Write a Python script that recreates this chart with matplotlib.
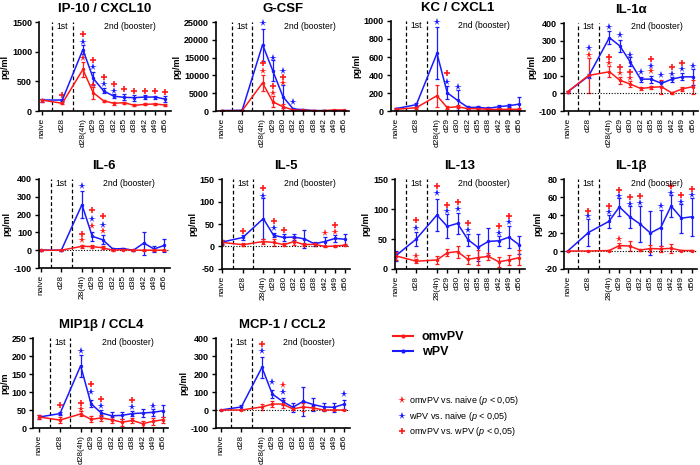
import numpy as np
import matplotlib.pyplot as plt
from matplotlib.lines import Line2D

plt.rcParams['font.family'] = ['Liberation Sans', 'DejaVu Sans']
plt.rcParams['mathtext.fontset'] = 'custom'
plt.rcParams['mathtext.rm'] = 'Liberation Sans'
plt.rcParams['mathtext.it'] = 'Liberation Sans:italic'

days = ['naive', 'd28', 'd28(4h)', 'd29', 'd30', 'd32', 'd35', 'd38', 'd42', 'd49', 'd56']
pos = [0, 2, 4, 5, 6, 7, 8, 9, 10, 11, 12]

# IP-10 / CXCL10
ip10_omv = [185, 130, 700, 308, 173, 130, 140, 95, 112, 118, 100]
ip10_omv_err = [25, 15, 130, 100, 20, 30, 20, 15, 15, 15, 10]
ip10_wpv = [185, 185, 1035, 550, 340, 250, 230, 225, 235, 235, 200]
ip10_wpv_err = [25, 10, 70, 110, 40, 30, 50, 50, 30, 25, 50]
ip10_rstar = [('d28(4h)', 900), ('d29', 440)]
ip10_bstar = [('d28(4h)', 1165), ('d29', 745), ('d30', 455), ('d32', 330)]
ip10_plus = [('d28', 270), ('d28(4h)', 1290), ('d29', 855), ('d30', 570), ('d32', 450),
             ('d35', 365), ('d38', 345), ('d42', 345), ('d49', 345), ('d56', 325)]

# G-CSF
gcsf_omv = [100, 100, 7900, 2600, 1200, 280, 190, 100, 100, 280, 280]
gcsf_omv_err = [50, 50, 2200, 1500, 800, 100, 50, 50, 50, 50, 50]
gcsf_wpv = [100, 200, 18650, 11300, 4000, 560, 370, 100, 100, 100, 100]
gcsf_wpv_err = [50, 100, 4500, 3000, 3200, 300, 100, 50, 50, 50, 50]
gcsf_rstar = [('d28(4h)', 11200), ('d29', 4950), ('d30', 7900)]
gcsf_bstar = [('d28(4h)', 24700), ('d29', 14750), ('d30', 11200), ('d32', 2600)]
gcsf_plus = [('d28(4h)', 13350), ('d29', 7000), ('d30', 9600)]

# KC / CXCL1
kc_omv = [18, 37, 170, 37, 48, 26, 26, 18, 18, 18, 18]
kc_omv_err = [10, 10, 120, 15, 20, 10, 10, 10, 10, 10, 10]
kc_wpv = [26, 70, 640, 203, 118, 40, 40, 30, 48, 59, 77]
kc_wpv_err = [10, 20, 290, 75, 110, 15, 15, 20, 15, 15, 75]
kc_rstar = []
kc_bstar = [('d28(4h)', 990), ('d29', 325), ('d30', 262)]
kc_plus = [('d29', 417)]

# IL-1a
il1a_omv = [10, 102, 123, 75, 53, 28, 34, 38, 2, 26, 38]
il1a_omv_err = [5, 100, 30, 20, 15, 10, 10, 40, 5, 10, 40]
il1a_wpv = [9, 98, 317, 270, 179, 81, 81, 57, 81, 94, 94]
il1a_wpv_err = [5, 10, 35, 35, 25, 15, 20, 15, 15, 20, 45]
il1a_rstar = [('d28', 221), ('d28(4h)', 174), ('d29', 117), ('d30', 85), ('d35', 126)]
il1a_bstar = [('d28', 258), ('d28(4h)', 377), ('d29', 334), ('d30', 221), ('d32', 123),
              ('d35', 157), ('d38', 104), ('d42', 113), ('d49', 136), ('d56', 157)]
il1a_plus = [('d28(4h)', 208), ('d29', 151), ('d30', 123), ('d35', 198), ('d42', 151), ('d49', 175)]

# IL-6
il6_omv = [0, 0, 22, 20, 14, 0, 3, 0, 0, 0, 0]
il6_omv_err = [2, 2, 8, 8, 8, 3, 3, 2, 2, 2, 2]
il6_wpv = [0, 0, 256, 78, 59, 7, 9, 0, 40, 7, 27]
il6_wpv_err = [2, 2, 75, 25, 25, 5, 5, 2, 65, 15, 35]
il6_rstar = [('d28(4h)', 55), ('d29', 138), ('d30', 106)]
il6_bstar = [('d28(4h)', 362), ('d29', 177), ('d30', 143)]
il6_plus = [('d28(4h)', 93), ('d29', 224), ('d30', 190)]

# IL-5
il5_omv = [9, 4, 11, 9, 4, 11, 4, 5, 0, 1, 3]
il5_omv_err = [5, 3, 5, 7, 3, 8, 4, 3, 2, 2, 3]
il5_wpv = [10, 20, 62, 25, 20, 21, 17, 6, 11, 18, 16]
il5_wpv_err = [5, 5, 45, 5, 7, 7, 20, 4, 10, 7, 12]
il5_rstar = [('d42', 30), ('d49', 32)]
il5_bstar = [('d28(4h)', 113), ('d29', 40)]
il5_plus = [('d28', 35), ('d28(4h)', 131), ('d29', 56), ('d30', 37), ('d49', 47)]

# IL-13
il13_omv = [22, 13, 15, 27, 29, 16, 19, 21, 12, 15, 19]
il13_omv_err = [7, 3, 6, 6, 10, 8, 12, 6, 8, 8, 13]
il13_wpv = [22, 50, 90, 71, 76, 49, 36, 46, 47, 53, 40]
il13_wpv_err = [8, 12, 27, 20, 18, 10, 23, 22, 8, 18, 15]
il13_rstar = [('d28', 22)]
il13_bstar = [('d28', 69), ('d28(4h)', 127), ('d29', 96), ('d30', 100), ('d32', 65), ('d42', 60), ('d49', 78)]
il13_plus = [('d28', 81), ('d28(4h)', 138), ('d29', 107), ('d30', 112), ('d32', 76), ('d42', 71), ('d49', 89)]

# IL-1b
il1b_omv = [0, 0, 0.5, 6, 5.5, 1, 2.7, 2.3, 3, 0.5, 0.5]
il1b_omv_err = [0.5, 0.5, 0.5, 3, 6, 1, 4, 3, 5, 0.5, 0.5]
il1b_wpv = [0, 20.5, 33, 49, 38, 30, 20, 26, 50, 36.5, 38]
il1b_wpv_err = [0.5, 15, 7, 10, 12, 20, 25, 20, 12, 16, 21]
il1b_rstar = [('d29', 13)]
il1b_bstar = [('d28', 38.4), ('d28(4h)', 43), ('d29', 61.5), ('d30', 52), ('d32', 53),
              ('d38', 49.5), ('d42', 64.5), ('d49', 54.5), ('d56', 62)]
il1b_plus = [('d28', 44.7), ('d28(4h)', 50.3), ('d29', 68), ('d30', 59.5), ('d32', 60.7),
             ('d42', 72), ('d49', 62), ('d56', 69)]

# MIP1b / CCL4
mip_omv = [30.5, 22, 39, 24, 28, 23, 16, 21, 12, 18.5, 23]
mip_omv_err = [5, 8, 7, 8, 8, 8, 10, 6, 8, 10, 8]
mip_wpv = [30.5, 40, 173, 67.6, 41.7, 34, 35, 40, 41.7, 43.5, 48]
mip_wpv_err = [5, 5, 30, 10, 7, 10, 10, 8, 12, 9, 17]
mip_rstar = [('d28(4h)', 53)]
mip_bstar = [('d28(4h)', 215), ('d29', 100), ('d30', 62), ('d38', 58), ('d49', 60)]
mip_plus = [('d28', 65), ('d28(4h)', 69), ('d29', 123), ('d30', 81.5), ('d38', 78.7)]

# MCP-1 / CCL2
mcp_omv = [0, 0, 17, 33, 33, 6, 17, 11, 0, 0, 0]
mcp_omv_err = [2, 2, 15, 15, 20, 5, 20, 10, 2, 2, 2]
mcp_wpv = [0, 17, 237, 89, 48, 15, 48, 30, 17, 15, 33]
mcp_wpv_err = [2, 10, 60, 20, 20, 25, 80, 35, 20, 25, 25]
mcp_rstar = [('d30', 141)]
mcp_bstar = [('d28(4h)', 326), ('d29', 156), ('d30', 100), ('d56', 89)]
mcp_plus = [('d28(4h)', 367)]

short_days = ['naive', 'd28', '28(4h)', 'd29', 'd30', 'd32', 'd35', 'd38', 'd42', 'd49', 'd56']

# title, data, y ticks, ylabel, tick labels, box in pixels (left, top, right, bottom), x left limit
panels = [
    ('IP-10 / CXCL10', ip10_omv, ip10_omv_err, ip10_wpv, ip10_wpv_err, ip10_rstar, ip10_bstar, ip10_plus,
     np.arange(0, 1501, 500), 'pg/ml', days, (39, 22, 170.5, 111), -0.26),
    ('G-CSF', gcsf_omv, gcsf_omv_err, gcsf_wpv, gcsf_wpv_err, gcsf_rstar, gcsf_bstar, gcsf_plus,
     np.arange(0, 25001, 5000), 'pg/ml', days, (216, 22, 349.4, 111), -0.56),
    ('KC / CXCL1', kc_omv, kc_omv_err, kc_wpv, kc_wpv_err, kc_rstar, kc_bstar, kc_plus,
     np.arange(0, 1001, 200), 'pg/ml', days, (390.7, 21, 524.5, 111), -0.49),
    ('IL-1α', il1a_omv, il1a_omv_err, il1a_wpv, il1a_wpv_err, il1a_rstar, il1a_bstar, il1a_plus,
     np.arange(-100, 401, 100), 'pg/ml', days, (564, 23, 697.9, 111), -0.36),
    ('IL-6', il6_omv, il6_omv_err, il6_wpv, il6_wpv_err, il6_rstar, il6_bstar, il6_plus,
     np.arange(-100, 401, 100), 'pg/ml', short_days, (39, 179, 169.5, 268), -0.17),
    ('IL-5', il5_omv, il5_omv_err, il5_wpv, il5_wpv_err, il5_rstar, il5_bstar, il5_plus,
     np.arange(-50, 151, 50), 'pg/ml', short_days, (221.7, 179, 350.4, 269), -0.06),
    ('IL-13', il13_omv, il13_omv_err, il13_wpv, il13_wpv_err, il13_rstar, il13_bstar, il13_plus,
     np.arange(0, 151, 50), 'pg/ml', short_days, (395, 179, 524.5, 269), -0.07),
    ('IL-1β', il1b_omv, il1b_omv_err, il1b_wpv, il1b_wpv_err, il1b_rstar, il1b_bstar, il1b_plus,
     np.arange(-20, 81, 20), 'pg/ml', short_days, (564.3, 179, 696.9, 269), -0.33),
    ('MIP1β / CCL4', mip_omv, mip_omv_err, mip_wpv, mip_wpv_err, mip_rstar, mip_bstar, mip_plus,
     np.arange(0, 251, 50), 'pg/m', days, (33.3, 338, 168.5, 428), -0.58),
    ('MCP-1 / CCL2', mcp_omv, mcp_omv_err, mcp_wpv, mcp_wpv_err, mcp_rstar, mcp_bstar, mcp_plus,
     np.arange(-100, 401, 100), 'pg/ml', days, (215.7, 338, 349.5, 428), -0.49),
]

W, H = 700, 465
fig = plt.figure(figsize=(W / 100, H / 100), dpi=100)
red, blue = '#ff1a1a', '#1a1aff'
xpos = dict(zip(days, pos))

for (title, omv, omv_err, wpv, wpv_err, rstar, bstar, plus,
     yticks, ylab, labels, box, xl) in panels:
    l, t, r, b = box
    ax = fig.add_axes([l / W, 1 - b / H, (r - l) / W, (b - t) / H])
    ax.errorbar(pos, wpv, yerr=wpv_err, color=blue, lw=1.1, elinewidth=0.9,
                capsize=1.5, capthick=0.9, marker='o', ms=1.5)
    ax.errorbar(pos, omv, yerr=omv_err, color=red, lw=1.1, elinewidth=0.9,
                capsize=1.5, capthick=0.9, marker='o', ms=1.5)
    for d, v in rstar:
        ax.plot(xpos[d], v, marker='*', color=red, ms=5.5, mew=0, ls='none', clip_on=False)
    for d, v in bstar:
        ax.plot(xpos[d], v, marker='*', color=blue, ms=5.5, mew=0, ls='none', clip_on=False)
    for d, v in plus:
        ax.plot(xpos[d], v, marker='+', color=red, ms=5, mew=1.2, ls='none', clip_on=False)

    ax.set_xlim(xl, 12.5)
    ax.set_ylim(yticks[0], yticks[-1])
    ax.axvline(1, color='black', lw=0.9, ls=(0, (3, 2)))
    ax.axvline(3, color='black', lw=0.9, ls=(0, (3, 2)))
    if yticks[0] < 0:
        ax.axhline(0, color='black', lw=0.8, ls=(0, (1, 1.5)))
    ax.text(2, 0.955, '1st', transform=ax.get_xaxis_transform(), ha='center', va='center', fontsize=6.2)
    ax.text(8.6, 0.955, '2nd (booster)', transform=ax.get_xaxis_transform(), ha='center', va='center',
            fontsize=6.2)

    ax.set_xticks(pos)
    ax.set_xticklabels(labels, rotation=90, fontsize=6)
    ax.set_yticks(yticks)
    ax.set_yticklabels([str(v) for v in yticks], fontsize=6.5, fontweight='bold')
    ax.set_ylabel(ylab, fontsize=6.5, fontweight='bold', labelpad=1.5)
    ax.set_title(title, fontsize=9.5, fontweight='bold', pad=7)
    ax.spines['top'].set_visible(False)
    ax.spines['right'].set_visible(False)
    ax.spines['left'].set_linewidth(1.2)
    ax.spines['bottom'].set_linewidth(1.2)
    ax.tick_params(length=3, width=1, pad=2)

# group legend
h1 = Line2D([], [], color=red, lw=1.5, marker='o', ms=2)
h2 = Line2D([], [], color=blue, lw=1.5, marker='o', ms=2)
fig.legend([h1, h2], ['omvPV', 'wPV'], loc='upper left', bbox_to_anchor=(393 / W, 1 - 331 / H),
           frameon=False, prop={'weight': 'bold', 'size': 9}, handlelength=1.6, handletextpad=0.7,
           labelspacing=0.25, borderpad=0, borderaxespad=0)

# significance legend
s1 = Line2D([], [], color=red, marker='*', ms=5.5, mew=0, ls='none')
s2 = Line2D([], [], color=blue, marker='*', ms=5.5, mew=0, ls='none')
s3 = Line2D([], [], color=red, marker='+', ms=5, mew=1.2, ls='none')
fig.legend([s1, s2, s3],
           [r'omvPV vs. naive ($\it{p}$ < 0,05)', r'wPV vs. naive ($\it{p}$ < 0,05)',
            r'omvPV vs. wPV ($\it{p}$ < 0,05)'],
           loc='upper left', bbox_to_anchor=(398 / W, 1 - 394 / H), frameon=False, fontsize=6.5,
           handlelength=0.8, handletextpad=0.4, labelspacing=0.3, borderpad=0, borderaxespad=0)

fig.savefig('out.png', dpi=100)
